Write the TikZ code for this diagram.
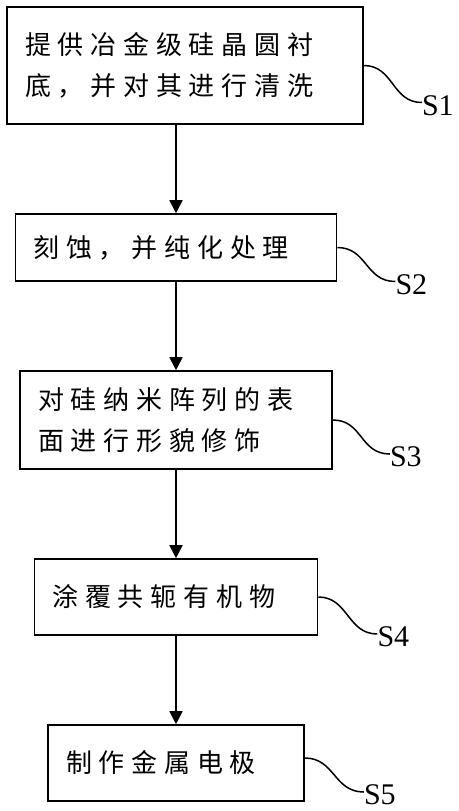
\documentclass[tikz,border=0pt]{standalone}
\usepackage{fontspec}
\setmainfont{Liberation Serif}
\newfontfamily\cjk[LetterSpace=26]{Noto Sans CJK SC}
\usepackage{tikz}
\usetikzlibrary{positioning,arrows.meta}

\begin{document}
\begin{tikzpicture}[x=1pt,y=-1pt,node distance=88.4pt,
  stepbox/.style={draw,line width=1.6pt,align=left,inner xsep=18pt,
    font=\fontsize{26}{41}\selectfont\cjk},
  tag/.style={anchor=west,inner sep=0pt,font=\fontsize{30}{30}\selectfont},
  arr/.style={-{Triangle[length=13pt,width=13pt]},line width=1.8pt},
  lead/.style={line width=1.5pt}]
  \useasboundingbox (0,0) rectangle (458,811);
  \node[stepbox,text width=320pt,minimum height=117pt] (s1) at (185,65.5)
    {提供冶金级硅晶圆衬\\底，并对其进行清洗};
  \node[stepbox,text width=285pt,minimum height=67pt,below=of s1,xshift=-9pt] (s2)
    {刻蚀，并纯化处理};
  \node[stepbox,text width=276pt,minimum height=98pt,below=of s2] (s3)
    {对硅纳米阵列的表\\面进行形貌修饰};
  \node[stepbox,text width=247pt,minimum height=76pt,below=of s3] (s4)
    {涂覆共轭有机物};
  \node[stepbox,text width=220pt,minimum height=76pt,below=of s4] (s5)
    {制作金属电极};
  \draw[arr] (s1.south -| s2) -- (s2);
  \draw[arr] (s2) -- (s3);
  \draw[arr] (s3) -- (s4);
  \draw[arr] (s4) -- (s5);
  \node[tag] (l1) at ([shift={(58,40)}]s1.east) {S1};
  \node[tag] (l2) at ([shift={(58,37)}]s2.east) {S2};
  \node[tag] (l3) at ([shift={(57,37)}]s3.east) {S3};
  \node[tag] (l4) at ([shift={(59,40)}]s4.east) {S4};
  \node[tag] (l5) at ([shift={(59,32)}]s5.east) {S5};
  \draw[lead] (s1.east) .. controls +(30,0) and +(-30,0) .. ([yshift=3pt]l1.west);
  \draw[lead] (s2.east) .. controls +(30,0) and +(-30,0) .. ([yshift=3pt]l2.west);
  \draw[lead] (s3.east) .. controls +(30,0) and +(-30,0) .. ([yshift=3pt]l3.west);
  \draw[lead] (s4.east) .. controls +(30,0) and +(-30,0) .. ([yshift=3pt]l4.west);
  \draw[lead] ([yshift=5pt]s5.east) .. controls +(30,0) and +(-30,0) .. ([yshift=3pt]l5.west);
\end{tikzpicture}
\end{document}
